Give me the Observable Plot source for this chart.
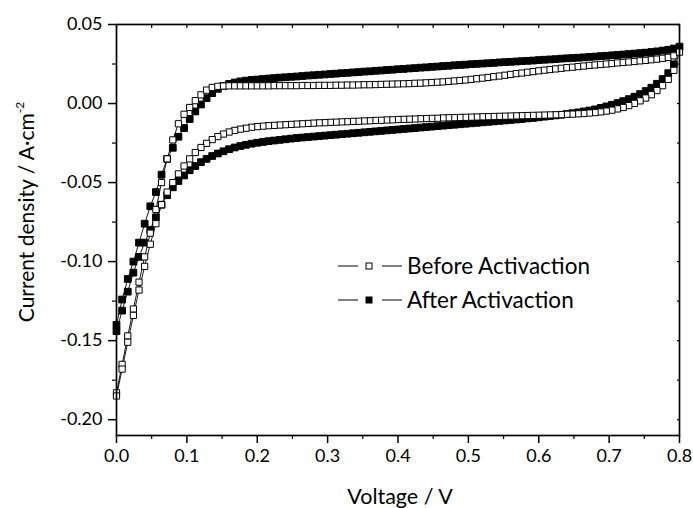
<!DOCTYPE html>
<html><head><meta charset="utf-8">
<script src="https://cdn.jsdelivr.net/npm/d3@7"></script>
<script src="https://cdn.jsdelivr.net/npm/@observablehq/plot@0.6"></script>
<style>
html,body{margin:0;padding:0;background:#fff;}
#chart{width:693px;height:508px;position:relative;}
</style></head><body><div id="chart"></div>
<script>
// Potential sweep (V), shared by both sweep directions
const voltage = [
0,0.008,0.016,0.024,0.032,0.04,0.048,0.056,0.064,0.072,
0.08,0.088,0.096,0.104,0.112,0.12,0.128,0.136,0.144,0.152,
0.16,0.168,0.176,0.184,0.192,0.2,0.208,0.216,0.224,0.232,
0.24,0.248,0.256,0.264,0.272,0.28,0.288,0.296,0.304,0.312,
0.32,0.328,0.336,0.344,0.352,0.36,0.368,0.376,0.384,0.392,
0.4,0.408,0.416,0.424,0.432,0.44,0.448,0.456,0.464,0.472,
0.48,0.488,0.496,0.504,0.512,0.52,0.528,0.536,0.544,0.552,
0.56,0.568,0.576,0.584,0.592,0.6,0.608,0.616,0.624,0.632,
0.64,0.648,0.656,0.664,0.672,0.68,0.688,0.696,0.704,0.712,
0.72,0.728,0.736,0.744,0.752,0.76,0.768,0.776,0.784,0.792,
0.8];
// Before activation: anodic (forward) sweep
const beforeAnodic = [
-0.183,-0.165,-0.147,-0.130,-0.113,-0.097,-0.082,-0.067,-0.050,-0.035,
-0.023,-0.0128,-0.0068,-0.0025,0.0018,0.0055,0.0085,0.0102,0.0109,0.0111,
0.0112,0.0112,0.0112,0.0112,0.0112,0.0112,0.0112,0.0112,0.0113,0.0113,
0.0113,0.0113,0.0113,0.0114,0.0114,0.0114,0.0115,0.0115,0.0115,0.0116,
0.0116,0.0117,0.0117,0.0118,0.0119,0.0119,0.012,0.0121,0.0122,0.0123,
0.0124,0.0125,0.0126,0.0128,0.0129,0.0131,0.0133,0.0135,0.0137,0.014,
0.0143,0.0146,0.0149,0.0153,0.0157,0.0161,0.0165,0.017,0.0174,0.0179,
0.0184,0.0189,0.0193,0.0198,0.0202,0.0207,0.0211,0.0215,0.0219,0.0223,
0.0227,0.023,0.0234,0.0237,0.0241,0.0244,0.0247,0.025,0.0253,0.0257,
0.026,0.0263,0.0266,0.027,0.0273,0.0277,0.0281,0.0286,0.0292,0.0302,
0.0325];
// Before activation: cathodic (reverse) sweep, listed by voltage
const beforeCathodic = [
-0.185,-0.168,-0.151,-0.134,-0.118,-0.103,-0.089,-0.076,-0.064,-0.056,
-0.05,-0.0445,-0.0395,-0.035,-0.031,-0.0278,-0.0252,-0.0228,-0.0209,-0.0193,
-0.018,-0.017,-0.0162,-0.0156,-0.015,-0.0146,-0.0143,-0.014,-0.0138,-0.0136,
-0.0134,-0.0132,-0.013,-0.0128,-0.0126,-0.0124,-0.0122,-0.0121,-0.0119,-0.0118,
-0.0116,-0.0115,-0.0113,-0.0112,-0.011,-0.0109,-0.0107,-0.0106,-0.0104,-0.0103,
-0.0101,-0.01,-0.0099,-0.0098,-0.0096,-0.0095,-0.0094,-0.0093,-0.0091,-0.009,
-0.0089,-0.0088,-0.0087,-0.0086,-0.0085,-0.0084,-0.0083,-0.0082,-0.0081,-0.008,
-0.0079,-0.0078,-0.0077,-0.0076,-0.0075,-0.0074,-0.0073,-0.0072,-0.0071,-0.007,
-0.0068,-0.0067,-0.0065,-0.0063,-0.006,-0.0057,-0.0053,-0.0048,-0.0042,-0.0034,
-0.0025,-0.0013,0.0001,0.0017,0.0035,0.0056,0.0082,0.0113,0.0153,0.021,
0.0325];
// After activation: anodic sweep
const afterAnodic = [
-0.14,-0.124,-0.111,-0.1,-0.088,-0.076,-0.065,-0.056,-0.045,-0.035,
-0.028,-0.021,-0.0155,-0.0098,-0.005,-0.0006,0.0034,0.0066,0.0093,0.0112,
0.0124,0.0133,0.014,0.0145,0.0149,0.0152,0.0155,0.0158,0.0161,0.0164,
0.0166,0.0169,0.0171,0.0174,0.0177,0.0179,0.0182,0.0184,0.0187,0.0189,
0.0192,0.0194,0.0197,0.0199,0.0202,0.0204,0.0207,0.0209,0.0212,0.0214,
0.0217,0.0219,0.0222,0.0224,0.0227,0.0229,0.0232,0.0234,0.0237,0.0239,
0.0242,0.0244,0.0246,0.0249,0.0251,0.0253,0.0255,0.0257,0.026,0.0262,
0.0264,0.0266,0.0268,0.027,0.0272,0.0275,0.0277,0.0279,0.0281,0.0284,
0.0286,0.0288,0.029,0.0292,0.0295,0.0297,0.03,0.0302,0.0305,0.0307,
0.031,0.0313,0.0316,0.0319,0.0322,0.0326,0.033,0.0335,0.034,0.0348,
0.036];
// After activation: cathodic sweep, listed by voltage
const afterCathodic = [
-0.144,-0.131,-0.119,-0.107,-0.097,-0.088,-0.08,-0.072,-0.064,-0.058,
-0.053,-0.049,-0.0455,-0.0422,-0.0395,-0.0371,-0.035,-0.0332,-0.0316,-0.0302,
-0.0289,-0.0278,-0.0269,-0.0261,-0.0254,-0.0248,-0.0243,-0.0238,-0.0234,-0.023,
-0.0226,-0.0222,-0.0218,-0.0215,-0.0212,-0.0209,-0.0206,-0.0203,-0.02,-0.0197,
-0.0194,-0.0191,-0.0188,-0.0185,-0.0182,-0.0179,-0.0176,-0.0173,-0.017,-0.0167,
-0.0164,-0.0161,-0.0158,-0.0155,-0.0152,-0.0149,-0.0146,-0.0143,-0.014,-0.0137,
-0.0134,-0.0131,-0.0128,-0.0125,-0.0122,-0.0119,-0.0116,-0.0113,-0.011,-0.0107,
-0.0104,-0.0101,-0.0098,-0.0094,-0.0091,-0.0087,-0.0083,-0.0079,-0.0075,-0.0071,
-0.0066,-0.0061,-0.0056,-0.005,-0.0044,-0.0037,-0.0028,-0.0018,-0.0008,0.0003,
0.0015,0.0028,0.0043,0.006,0.0079,0.01,0.0125,0.0155,0.0192,0.0248,
0.036];
const seriesNames = ["Before Activaction", "After Activaction"];
const xTicks = [0, 0.1, 0.2, 0.3, 0.4, 0.5, 0.6, 0.7, 0.8];
const xMinor = [0.05, 0.15, 0.25, 0.35, 0.45, 0.55, 0.65, 0.75];
const yTicks = [-0.20, -0.15, -0.10, -0.05, 0.00, 0.05];
const yMinor = [-0.175, -0.125, -0.075, -0.025, 0.025];
const xTopTicks = [0, 0.05, 0.1, 0.15, 0.2, 0.25, 0.3, 0.35, 0.4, 0.45, 0.5, 0.55, 0.6, 0.65, 0.7, 0.75, 0.8];
const yRightTicks = [-0.2, -0.175, -0.15, -0.125, -0.1, -0.075, -0.05, -0.025, 0, 0.025, 0.05];
const xDomain = [0, 0.8];
const yDomain = [-0.21, 0.05];
const xTitle = "Voltage / V";
const yTitle = "Current density / A·cm";
const yTitleSup = "-2";

function cycle(anodic, cathodic, name) {
  const rows = voltage.map((v, i) => ({V: v, J: anodic[i], series: name}));
  for (let i = voltage.length - 2; i >= 0; i--) rows.push({V: voltage[i], J: cathodic[i], series: name});
  return rows;
}
const before = cycle(beforeAnodic, beforeCathodic, seriesNames[0]);
const after = cycle(afterAnodic, afterCathodic, seriesNames[1]);

const FONT = "Lato, 'Open Sans', sans-serif";
const plot = Plot.plot({
  width: 693, height: 508,
  marginLeft: 116, marginRight: 14, marginTop: 24, marginBottom: 73,
  style: {fontFamily: FONT, fontSize: "18px", color: "#000", background: "#fff", overflow: "visible"},
  x: {domain: xDomain},
  y: {domain: yDomain},
  marks: [
    Plot.line(after, {x: "V", y: "J", stroke: "#000", strokeWidth: 0.9}),
    Plot.dot(after, {x: "V", y: "J", symbol: "square", r: 3.8, fill: "#000", stroke: "#000", strokeWidth: 1}),
    Plot.line(before, {x: "V", y: "J", stroke: "#000", strokeWidth: 0.9}),
    Plot.dot(before, {x: "V", y: "J", symbol: "square", r: 3.5, fill: "#fff", stroke: "#000", strokeWidth: 1}),
    Plot.frame({stroke: "#000", strokeWidth: 1.7}),
    Plot.axisX(xTicks, {anchor: "bottom", tickSize: 8, tickPadding: 6, strokeWidth: 1.5, tickFormat: d => d.toFixed(1), label: null, fontSize: 18}),
    Plot.axisX(xMinor, {anchor: "bottom", tickSize: 4, strokeWidth: 1.2, tickFormat: () => "", label: null}),
    Plot.axisX(xTopTicks, {anchor: "top", tickSize: -3, strokeWidth: 1.2, tickFormat: () => "", label: null}),
    Plot.axisY(yTicks, {anchor: "left", tickSize: 8, tickPadding: 6, strokeWidth: 1.5, tickFormat: d => d.toFixed(2), label: null, fontSize: 18}),
    Plot.axisY(yMinor, {anchor: "left", tickSize: 4, strokeWidth: 1.2, tickFormat: () => "", label: null}),
    Plot.axisY(yRightTicks, {anchor: "right", tickSize: -3, strokeWidth: 1.2, tickFormat: () => "", label: null})
  ]
});
document.getElementById("chart").appendChild(plot);

// Titles and legend
const svg = d3.select(plot);
svg.append("text")
  .attr("x", 400).attr("y", 504)
  .attr("text-anchor", "middle")
  .style("font-family", FONT).style("font-size", "21.5px").attr("fill", "#000")
  .text(xTitle);
const yt = svg.append("text")
  .attr("transform", "translate(34,212) rotate(-90)")
  .attr("text-anchor", "middle")
  .style("font-family", FONT).style("font-size", "21px").attr("fill", "#000");
yt.append("tspan").text(yTitle);
yt.append("tspan").attr("dy", -10).style("font-size", "12px").text(yTitleSup);

const legend = svg.append("g").attr("text-anchor", "start");
const legendRows = [
  {name: seriesNames[0], fill: "#fff", cy: 266},
  {name: seriesNames[1], fill: "#000", cy: 300}
];
legendRows.forEach(r => {
  legend.append("line").attr("x1", 338).attr("x2", 358).attr("y1", r.cy).attr("y2", r.cy).attr("stroke", "#000").attr("stroke-width", 1);
  legend.append("line").attr("x1", 382).attr("x2", 402).attr("y1", r.cy).attr("y2", r.cy).attr("stroke", "#000").attr("stroke-width", 1);
  legend.append("rect").attr("x", 366).attr("y", r.cy - 3).attr("width", 6).attr("height", 6).attr("fill", r.fill).attr("stroke", "#000").attr("stroke-width", 1);
  legend.append("text").attr("x", 407).attr("y", r.cy + 7.5).attr("text-anchor", "start")
    .style("font-family", FONT).style("font-size", "22.5px").attr("fill", "#000").text(r.name);
});
</script>
</body></html>
